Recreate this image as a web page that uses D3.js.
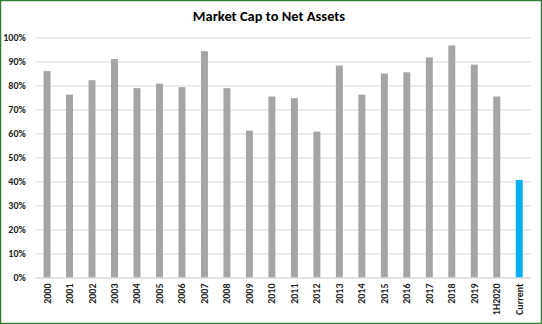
<!DOCTYPE html>
<html><head><meta charset="utf-8">
<script src="https://cdn.jsdelivr.net/npm/d3@7"></script>
<style>body{margin:0;background:#fff}svg{display:block}</style>
</head><body>
<script>
const categories = ["2000","2001","2002","2003","2004","2005","2006","2007","2008","2009","2010","2011","2012","2013","2014","2015","2016","2017","2018","2019","1H2020","Current"];
const values = [86.0,76.2,82.2,91.0,78.9,80.8,79.3,94.3,78.9,61.2,75.4,74.7,60.8,88.3,76.2,85.0,85.5,91.7,96.7,88.7,75.4,40.6];
const yTicks = [0,10,20,30,40,50,60,70,80,90,100];
const chartTitle = "Market Cap to Net Assets";

(function(){
const W = 542, H = 324;
const svg = d3.select("body").append("svg").attr("width", W).attr("height", H);
svg.append("rect").attr("x",0.5).attr("y",0.5).attr("width",W-1).attr("height",H-1)
  .attr("fill","#fff").attr("stroke","#2e7d32").attr("stroke-width",1.5);

const mLeft = 35.8, mRight = 530.5, mTop = 37.5, mBottom = 277.5;
const x = d3.scaleBand().domain(categories).range([mLeft, mRight]).paddingInner(0.69).paddingOuter(0.345);
const y = d3.scaleLinear().domain([0,100]).range([mBottom, mTop]);

const font = "Calibri, Carlito, 'Open Sans', 'Liberation Sans', sans-serif";

svg.append("text").attr("x", 269).attr("y", 21).attr("text-anchor","middle")
  .attr("font-family", font).attr("font-weight","bold").attr("font-size", 14.5)
  .attr("fill","#000").text(chartTitle);

const yAxis = svg.append("g").attr("transform",`translate(${mLeft},0)`)
  .call(d3.axisLeft(y).tickValues(yTicks).tickSize(-(mRight-mLeft)).tickFormat(d => d + "%"));
yAxis.select(".domain").remove();
yAxis.selectAll(".tick line").attr("stroke","#d9d9d9").attr("stroke-width",1);
yAxis.selectAll(".tick text").attr("x",-10).attr("font-family",font).attr("font-size",10).attr("font-weight","bold").attr("fill","#222");

svg.append("g").selectAll("rect").data(categories).join("rect")
  .attr("x", d => x(d)).attr("width", x.bandwidth())
  .attr("y", (d,i) => y(values[i])).attr("height", (d,i) => y(0) - y(values[i]))
  .attr("fill", d => d === "Current" ? "#00b0f0" : "#a5a5a5");

const xAxis = svg.append("g").attr("transform",`translate(0,${mBottom})`)
  .call(d3.axisBottom(x).tickSize(0));
xAxis.select(".domain").attr("stroke","#d9d9d9");
xAxis.selectAll(".tick text")
  .attr("transform","rotate(-90)").attr("x",-6).attr("y",0).attr("dy","0.35em")
  .attr("text-anchor","end").attr("font-family",font).attr("font-size",10).attr("font-weight","bold").attr("fill","#222");
})();
</script>
</body></html>
